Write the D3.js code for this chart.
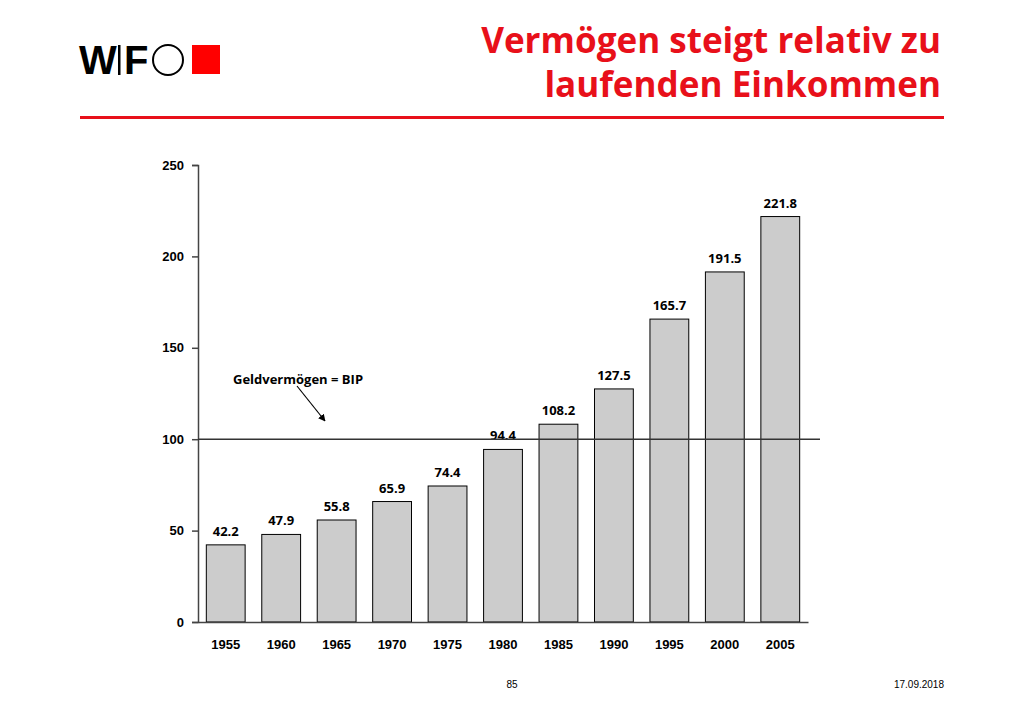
<!DOCTYPE html>
<html><head><meta charset="utf-8">
<script src="https://cdn.jsdelivr.net/npm/d3@7"></script>
<style>body{margin:0;background:#fff}</style>
</head><body>
<script>
const years = ["1955","1960","1965","1970","1975","1980","1985","1990","1995","2000","2005"];
const values = [42.2,47.9,55.8,65.9,74.4,94.4,108.2,127.5,165.7,191.5,221.8];
const yTicks = [0,50,100,150,200,250];

const W = 1024, H = 709;
const svg = d3.select("body").append("svg").attr("width", W).attr("height", H)
  .style("font-family", "'Open Sans', 'DejaVu Sans', sans-serif");

// logo
const logo = svg.append("g").attr("font-family", "'Liberation Sans', Arial, sans-serif");
logo.append("text").attr("x", 79).attr("y", 74).attr("font-size", 40).attr("font-weight", 900).text("W");
logo.append("rect").attr("x", 118).attr("y", 45).attr("width", 2.5).attr("height", 30).attr("fill", "#000");
logo.append("text").attr("x", 124).attr("y", 74).attr("font-size", 40).attr("font-weight", 900).text("F");
logo.append("circle").attr("cx", 168).attr("cy", 60).attr("r", 15).attr("fill", "none").attr("stroke", "#000").attr("stroke-width", 2);
logo.append("rect").attr("x", 192).attr("y", 45).attr("width", 28).attr("height", 29).attr("fill", "#f00");

// title
const titleLines = ["Vermögen steigt relativ zu", "laufenden Einkommen"];
titleLines.forEach((t, i) => {
  const tx = svg.append("text").attr("x", 941).attr("y", 53 + i * 44).attr("text-anchor", "end")
    .attr("fill", "#e8101a").attr("font-size", 35).attr("font-weight", 700).text(t);
  if (i === 0) {
    const len = tx.node().getComputedTextLength();
    const fs = 35 * 460 / len;
    svg.selectAll("text.tt").remove();
    tx.attr("font-size", Math.min(fs, 38)).classed("tt", false).attr("data-fs", fs);
  }
});
const fs0 = +svg.select("text[data-fs]").attr("data-fs");
svg.selectAll("text").filter(function(){ return this.getAttribute("fill") === "#e8101a"; })
  .attr("font-size", Math.min(fs0, 38));
svg.append("rect").attr("x", 80).attr("y", 116).attr("width", 864).attr("height", 3).attr("fill", "#e8101a");

// chart
const x = d3.scaleBand().domain(years).range([198, 808]).paddingInner(0.3).paddingOuter(0.15);
const y = d3.scaleLinear().domain([0, 250]).range([622, 165]);

const g = svg.append("g").attr("font-size", 13).attr("font-weight", 700);

g.selectAll("rect.bar").data(values).join("rect").attr("class", "bar")
  .attr("x", (d, i) => x(years[i])).attr("width", x.bandwidth())
  .attr("y", d => y(d)).attr("height", d => y(0) - y(d))
  .attr("fill", "#cccccc").attr("stroke", "#000").attr("stroke-width", 1);

g.selectAll("text.val").data(values).join("text").attr("class", "val")
  .attr("x", (d, i) => x(years[i]) + x.bandwidth() / 2).attr("y", d => y(d) - 9)
  .attr("text-anchor", "middle").text(d => d.toFixed(1));

const ya = g.append("g").attr("transform", "translate(198,0)")
  .call(d3.axisLeft(y).tickValues(yTicks).tickSize(6).tickPadding(8));
ya.select(".domain").attr("stroke", "#444").attr("stroke-width", 1.5);
ya.selectAll("line").attr("stroke", "#444").attr("stroke-width", 1.5);
ya.selectAll("text").attr("font-size", 13).attr("font-weight", 700).attr("font-family", "inherit").attr("fill", "#000");

const xa = g.append("g").attr("transform", "translate(0,622)")
  .call(d3.axisBottom(x).tickSize(0).tickPadding(18));
xa.select(".domain").attr("stroke", "#444").attr("stroke-width", 1.5);
xa.selectAll("text").attr("font-size", 13).attr("font-weight", 700).attr("font-family", "inherit").attr("fill", "#000");

// reference line at 100
g.append("line").attr("x1", 198).attr("x2", 820).attr("y1", y(100)).attr("y2", y(100))
  .attr("stroke", "#333").attr("stroke-width", 1.5);

svg.append("defs").append("marker").attr("id", "arr").attr("viewBox", "0 0 10 10")
  .attr("refX", 9).attr("refY", 5).attr("markerWidth", 6).attr("markerHeight", 6).attr("orient", "auto")
  .append("path").attr("d", "M0,0L10,5L0,10z").attr("fill", "#000");
g.append("text").attr("x", 233).attr("y", 384).text("Geldvermögen = BIP");
g.append("line").attr("x1", 297).attr("y1", 386).attr("x2", 325).attr("y2", 421)
  .attr("stroke", "#000").attr("stroke-width", 1.2).attr("marker-end", "url(#arr)");

// footer
svg.append("text").attr("x", 512).attr("y", 688).attr("text-anchor", "middle").attr("font-size", 10)
  .attr("font-family", "'Liberation Sans', Arial, sans-serif").text("85");
svg.append("text").attr("x", 944).attr("y", 688).attr("text-anchor", "end").attr("font-size", 10)
  .attr("font-family", "'Liberation Sans', Arial, sans-serif").text("17.09.2018");
</script>
</body></html>
